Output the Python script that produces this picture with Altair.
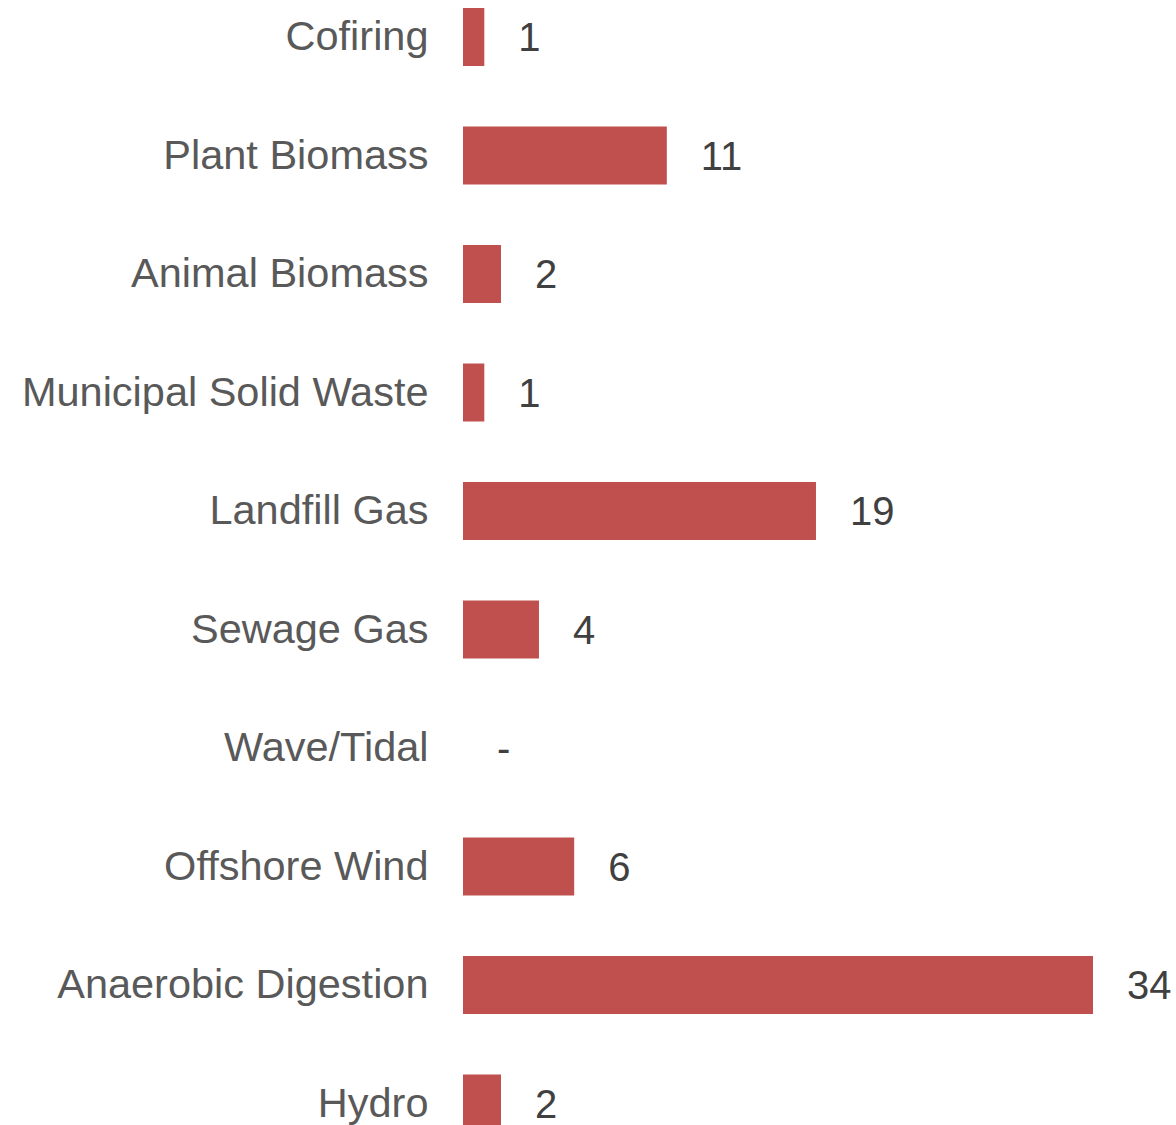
import altair as alt
import pandas as pd

categories = ["Cofiring", "Plant Biomass", "Animal Biomass", "Municipal Solid Waste",
              "Landfill Gas", "Sewage Gas", "Wave/Tidal", "Offshore Wind",
              "Anaerobic Digestion", "Hydro"]
values = [1.15, 11.0, 2.05, 1.15, 19.05, 4.1, 0, 6.0, 34.0, 2.05]

df = pd.DataFrame({"category": categories, "value": values})

FONT = "Liberation Sans"

y_enc = alt.Y("category:N", sort=categories,
              scale=alt.Scale(paddingInner=0.51, paddingOuter=0),
              axis=alt.Axis(title=None, ticks=False, domain=False, grid=False,
                            labelFont=FONT, labelFontSize=41.5, labelColor="#595959",
                            labelPadding=35, labelLimit=0, labelOffset=1))
x_scale = alt.Scale(domain=[0, 34], nice=False, zero=True)

bars = alt.Chart(df).mark_bar(color="#C0504D").encode(
    x=alt.X("value:Q", scale=x_scale, axis=None),
    y=y_enc,
)

labels = alt.Chart(df).transform_calculate(
    label="datum.value == 0 ? '-' : format(datum.value, '.0f')"
).mark_text(align="left", baseline="middle", dx=34, dy=2, font=FONT,
            fontSize=40, color="#404040").encode(
    x=alt.X("value:Q", scale=x_scale, axis=None),
    y=alt.Y("category:N", sort=categories),
    text="label:N",
)

chart = (bars + labels).properties(
    width=630, height=1124.6,
    background="white",
    autosize=alt.AutoSizeParams(type="none"),
    padding={"left": 463, "top": 8, "right": 83, "bottom": 0},
).configure_view(stroke=None)

chart.save("out.html", embed_options={"renderer": "svg", "actions": False})
